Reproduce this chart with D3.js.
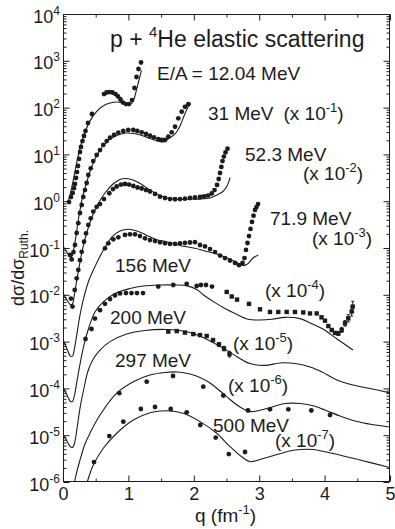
<!DOCTYPE html>
<html>
<head>
<meta charset="utf-8">
<script src="https://cdn.jsdelivr.net/npm/d3@7/dist/d3.min.js"></script>
<style>
  html, body { margin: 0; padding: 0; background: #fff; }
  svg { display: block; font-family: "Liberation Sans", Arial, Helvetica, sans-serif; }
</style>
</head>
<body>
<svg id="chart" width="395" height="529"></svg>
<script>
// ---- axes ----
const qDomain = [0, 5];
const ratioDomain = [1e-6, 1e4];
const qMajorTicks = [0, 1, 2, 3, 4, 5];
const qMinorTicks = [0.5, 1.5, 2.5, 3.5, 4.5];
const decadeExponents = [-6, -5, -4, -3, -2, -1, 0, 1, 2, 3, 4];

// ---- E/A = 12.04 MeV ----
const e12Q = [0.092,0.122,0.148,0.168,0.183,0.199,0.214,0.229,0.245,0.26,0.275,0.298,0.321,0.344,0.382,0.443,0.627,0.665,0.711,0.757,0.803,0.841,0.879,0.917,0.963,1.009,1.055,1.093,1.124,1.154,1.193];
const e12Sigma = [0.96,1.23,1.5,1.9,2.33,3.13,4.2,5.65,8.0,11.2,14.4,19.3,24.7,31.6,46.9,73,195,210,215,210,195,173,149,128,119,119,145,262,451,668,920];
const e12CalcQ = [0.076,0.138,0.199,0.26,0.336,0.413,0.505,0.612,0.719,0.826,0.917,0.994,1.047,1.086,1.124,1.162,1.2];
const e12Calc = [0.92,2.1,5.65,13.7,30,52,80.5,108,125,132,125,116,122,153,238,389,621];

// ---- 31 MeV (x 10^-1) ----
const e31Q = [0.107,0.133,0.161,0.183,0.209,0.234,0.26,0.286,0.31,0.336,0.362,0.387,0.424,0.463,0.515,0.566,0.616,0.668,0.719,0.78,0.846,0.922,0.998,1.075,1.136,1.203,1.269,1.33,1.391,1.457,1.509,1.56,1.61,1.662,1.713,1.763,1.815,1.865,1.916];
const e31Sigma = [0.071,0.057,0.082,0.116,0.21,0.34,0.56,0.83,1.23,1.73,2.45,3.63,5.05,7.2,9.7,12.4,15.9,19.3,22.7,26,29.1,31.6,33.2,33.2,31.6,29.6,27.3,25.1,23.2,21.3,20.3,20.3,23.9,29.6,39,59,81.7,104,118];
const e31CalcQ = [0.008,0.061,0.107,0.138,0.168,0.199,0.229,0.26,0.291,0.336,0.382,0.443,0.52,0.612,0.719,0.841,0.963,1.086,1.208,1.33,1.437,1.529,1.606,1.713,1.789,1.85,1.911,1.95];
const e31Calc = [0.105,0.082,0.064,0.067,0.1,0.18,0.36,0.65,1.11,1.91,3.13,5.65,9.7,15.1,21.3,26,28.6,28,25.4,21.9,19.3,18.4,21.3,27.3,40.5,66,103,125];

// ---- 52.3 MeV (x 10^-2) ----
const e52Q = [0.122,0.145,0.179,0.209,0.234,0.26,0.286,0.321,0.352,0.387,0.424,0.463,0.515,0.566,0.627,0.708,0.765,0.821,0.887,0.948,1.009,1.075,1.139,1.203,1.269,1.33,1.407,1.483,1.56,1.636,1.713,1.789,1.865,1.942,2.018,2.095,2.156,2.217,2.274,2.317,2.355,2.381,2.401,2.421,2.439,2.46,2.485,2.515];
const e52Sigma = [0.0083,0.0056,0.0127,0.0225,0.034,0.055,0.083,0.136,0.206,0.31,0.43,0.6,0.76,0.87,1.11,1.48,1.82,2.06,2.27,2.33,2.27,2.11,1.96,1.87,1.73,1.61,1.43,1.25,1.17,1.11,1.1,1.11,1.13,1.17,1.2,1.23,1.26,1.32,1.46,1.73,2.22,2.98,4.0,5.4,7.2,9.0,11.0,13.2];
const e52CalcQ = [0.008,0.061,0.115,0.145,0.176,0.214,0.26,0.306,0.367,0.443,0.535,0.642,0.765,0.872,0.963,1.07,1.193,1.33,1.483,1.636,1.789,1.942,2.095,2.248,2.355,2.446,2.508,2.554];
const e52Calc = [0.0104,0.0077,0.0061,0.0064,0.0104,0.0218,0.05,0.105,0.22,0.46,0.87,1.5,2.33,2.91,3.05,2.84,2.33,1.73,1.32,1.14,1.09,1.11,1.11,1.17,1.36,1.61,2.11,3.2];

// ---- 71.9 MeV (x 10^-3) ----
const e72Q = [0.642,0.693,0.769,0.846,0.948,1.024,1.101,1.177,1.254,1.33,1.407,1.483,1.56,1.636,1.713,1.789,1.865,1.942,2.018,2.095,2.171,2.248,2.324,2.401,2.477,2.554,2.63,2.691,2.745,2.775,2.798,2.821,2.844,2.867,2.89,2.913,2.936,2.959,2.982];
const e72Sigma = [0.0986,0.126,0.153,0.169,0.19,0.196,0.196,0.18,0.161,0.148,0.141,0.132,0.126,0.122,0.122,0.126,0.128,0.131,0.133,0.116,0.108,0.095,0.082,0.069,0.061,0.054,0.048,0.043,0.048,0.061,0.091,0.128,0.18,0.255,0.36,0.49,0.65,0.75,0.87];
const e72CalcQ = [0.008,0.061,0.115,0.145,0.176,0.214,0.26,0.321,0.398,0.515,0.627,0.749,0.872,0.998,1.131,1.269,1.422,1.586,1.789,2.018,2.171,2.324,2.523,2.645,2.732,2.783,2.833,2.905,2.986];
const e72Calc = [0.00103,0.0007,0.00049,0.00049,0.00073,0.0015,0.0037,0.009,0.0207,0.048,0.095,0.172,0.231,0.251,0.231,0.19,0.152,0.136,0.113,0.0986,0.086,0.077,0.06,0.05,0.043,0.043,0.047,0.061,0.071];

// ---- 156 MeV (x 10^-4) ----
const e156Q = [0.344,0.436,0.489,0.566,0.642,0.719,0.795,0.872,0.963,1.047,1.131,1.223,1.457,1.687,1.891,2.044,2.11,2.187,2.278];
const e156Sigma = [0.00114,0.00186,0.0031,0.0047,0.0064,0.0081,0.0097,0.0107,0.0109,0.0109,0.0109,0.0109,0.015,0.0162,0.017,0.0154,0.0162,0.0162,0.015];
const e156HighQ = [2.503,2.58,2.661,2.844,3.012,3.165,3.292,3.42,3.547,3.674,3.777,3.879,3.953,4.006,4.057,4.109,4.159,4.21,4.261,4.312,4.362,4.414,4.43];
const e156HighSigma = [0.0115,0.0092,0.0079,0.0064,0.0049,0.0043,0.0043,0.0043,0.0043,0.0042,0.004,0.004,0.0033,0.0028,0.00215,0.00177,0.00153,0.00149,0.00177,0.00246,0.00315,0.0044,0.0056];
const e156HighErr = [0,0,0,0,0,0,0,0,0,0,0,0,0,0,0,0,0.08,0.1,0.12,0.15,0.2,0.25,0.3];
const e156CalcQ = [0.008,0.061,0.115,0.145,0.176,0.214,0.26,0.321,0.398,0.489,0.612,0.795,1.024,1.228,1.483,1.713,1.9,2.05,2.171,2.324,2.477,2.63,2.829,3.012,3.196,3.394,3.624,3.807,3.96,4.19,4.434];
const e156Calc = [1.02e-4,7.2e-5,5.25e-5,5.25e-5,7.2e-5,1.44e-4,3.3e-4,8.5e-4,0.00205,0.0043,0.007,0.0107,0.0136,0.0154,0.0162,0.0162,0.0155,0.0128,0.0094,0.0068,0.0051,0.004,0.003,0.0029,0.003,0.0033,0.0031,0.0024,0.0019,0.00114,6.6e-4];

// ---- 200 MeV (x 10^-5) ----
const e200Q = [1.61,1.739,1.865,1.992,2.095,2.197,2.294,2.385,2.462,2.546];
const e200Sigma = [0.00164,0.00168,0.00156,0.00145,0.00138,0.00132,0.00108,8.7e-4,7.1e-4,5.4e-4];
const e200Err = [0,0,0,0,0,0,0.06,0.1,0.12,0.15];
const e200CalcQ = [0.008,0.061,0.115,0.153,0.183,0.222,0.26,0.321,0.387,0.474,0.566,0.719,0.974,1.254,1.56,1.789,2.018,2.248,2.401,2.656,2.859,3.089,3.318,3.547,3.777,3.96,4.19,4.434,4.694,5.0];
const e200Calc = [1.01e-5,7.5e-6,5.6e-6,5.6e-6,7.5e-6,1.65e-5,3.8e-5,1.02e-4,2.47e-4,4.5e-4,6.6e-4,0.001,0.00145,0.00173,0.00182,0.00173,0.00145,0.00103,7.9e-4,4.8e-4,3.4e-4,3.1e-4,3.5e-4,3.4e-4,2.86e-4,2.24e-4,1.51e-4,1.18e-4,9.95e-5,8e-5];

// ---- 297 MeV (x 10^-6) ----
const e297Q = [0.861,1.28,1.682,2.145,2.451,2.829,3.165,3.445,3.797,4.083];
const e297Sigma = [7.9e-5,1.39e-4,1.84e-4,1.09e-4,7.05e-5,3.37e-5,3.57e-5,3.57e-5,3.37e-5,2.7e-5];
const e297CalcQ = [0.138,0.168,0.199,0.26,0.336,0.413,0.566,0.821,1.075,1.33,1.56,1.758,1.942,2.095,2.248,2.401,2.554,2.706,2.859,3.012,3.196,3.394,3.624,3.807,4.006,4.235,4.465,4.725,5.0];
const e297Calc = [4.1e-7,8.6e-7,1.41e-6,2.95e-6,6.5e-6,1.11e-5,2.7e-5,7.9e-5,1.39e-4,1.93e-4,2.19e-4,2.24e-4,2.03e-4,1.71e-4,1.3e-4,8.8e-5,5.8e-5,4.0e-5,3.2e-5,3.4e-5,4.0e-5,4.75e-5,4.75e-5,4.3e-5,3.45e-5,2.57e-5,2.01e-5,1.69e-5,1.5e-5];

// ---- 500 MeV (x 10^-7) ----
const e500Q = [0.474,0.708,0.922,1.19,1.407,1.647,1.891,2.099,2.335,2.535,2.783];
const e500Sigma = [2.67e-6,9.6e-6,1.95e-5,3.63e-5,4.0e-5,3.63e-5,3.08e-5,1.65e-5,8.9e-6,3.96e-6,4.38e-6];
const e500CalcQ = [0.321,0.372,0.463,0.616,0.821,1.075,1.33,1.586,1.839,2.095,2.35,2.554,2.737,2.859,3.012,3.272,3.547,3.823,4.128,4.541,5.0];
const e500Calc = [6.7e-7,1.03e-6,2.3e-6,5.25e-6,1.1e-5,2.11e-5,3.03e-5,3.34e-5,2.94e-5,1.95e-5,1.1e-5,5.7e-6,3.42e-6,2.72e-6,3.03e-6,3.87e-6,4.83e-6,4.95e-6,4.06e-6,2.95e-6,2.04e-6];

// ---- annotation texts ----
const energyLabels = ["E/A = 12.04 MeV", "31 MeV", "52.3 MeV", "71.9 MeV", "156 MeV", "200 MeV", "297 MeV", "500 MeV"];
const scaleExponents = ["-1", "-2", "-3", "-4", "-5", "-6", "-7"];

// ================= drawing =================
const ink = "#1c1c1c";
const svg = d3.select("#chart");
const L = 63, R = 390, T = 14, B = 482;

const x = d3.scaleLinear().domain(qDomain).range([L, R]);
const y = d3.scaleLog().domain(ratioDomain).range([B, T]);

svg.append("rect").attr("width", 395).attr("height", 529).attr("fill", "#fff");

svg.append("defs").append("clipPath").attr("id", "plotArea")
  .append("rect").attr("x", L).attr("y", T).attr("width", R - L).attr("height", B - T);

const zip = (qs, vs) => qs.map((q, i) => [q, vs[i]]);

const curves = [
  zip(e12CalcQ, e12Calc), zip(e31CalcQ, e31Calc), zip(e52CalcQ, e52Calc), zip(e72CalcQ, e72Calc),
  zip(e156CalcQ, e156Calc), zip(e200CalcQ, e200Calc), zip(e297CalcQ, e297Calc), zip(e500CalcQ, e500Calc)
];
const dotSets = [
  zip(e12Q, e12Sigma), zip(e31Q, e31Sigma), zip(e52Q, e52Sigma), zip(e72Q, e72Sigma),
  zip(e156Q, e156Sigma), zip(e297Q, e297Sigma), zip(e500Q, e500Sigma)
];
const squareSets = [
  e156HighQ.map((q, i) => [q, e156HighSigma[i], e156HighErr[i]]),
  e200Q.map((q, i) => [q, e200Sigma[i], e200Err[i]])
];

const plot = svg.append("g").attr("clip-path", "url(#plotArea)");

const line = d3.line()
  .x(d => x(d[0])).y(d => y(d[1]))
  .curve(d3.curveCatmullRom.alpha(0.5));

plot.selectAll("path.calc").data(curves).join("path")
  .attr("class", "calc")
  .attr("d", line)
  .attr("fill", "none")
  .attr("stroke", ink)
  .attr("stroke-width", 1.1);

// error bars
const errPts = squareSets.flat().filter(d => d[2] > 0);
const eb = plot.selectAll("g.err").data(errPts).join("g").attr("class", "err")
  .attr("stroke", ink).attr("stroke-width", 1);
eb.append("line")
  .attr("x1", d => x(d[0])).attr("x2", d => x(d[0]))
  .attr("y1", d => y(d[1] * (1 + d[2]))).attr("y2", d => y(d[1] / (1 + d[2])));
eb.append("line")
  .attr("x1", d => x(d[0]) - 1.5).attr("x2", d => x(d[0]) + 1.5)
  .attr("y1", d => y(d[1] * (1 + d[2]))).attr("y2", d => y(d[1] * (1 + d[2])));
eb.append("line")
  .attr("x1", d => x(d[0]) - 1.5).attr("x2", d => x(d[0]) + 1.5)
  .attr("y1", d => y(d[1] / (1 + d[2]))).attr("y2", d => y(d[1] / (1 + d[2])));

plot.selectAll("circle.pt").data(dotSets.flat()).join("circle")
  .attr("class", "pt")
  .attr("cx", d => x(d[0])).attr("cy", d => y(d[1]))
  .attr("r", 2.4).attr("fill", ink);

const sq = 4.4;
plot.selectAll("rect.pt").data(squareSets.flat()).join("rect")
  .attr("class", "pt")
  .attr("x", d => x(d[0]) - sq / 2).attr("y", d => y(d[1]) - sq / 2)
  .attr("width", sq).attr("height", sq).attr("fill", ink);

// ---- frame and ticks ----
svg.append("rect")
  .attr("x", L + 0.5).attr("y", T + 0.5)
  .attr("width", R - L - 1).attr("height", B - T - 1)
  .attr("fill", "none").attr("stroke", ink).attr("stroke-width", 1);

function tickAxis(axis, tx, ty) {
  const g = svg.append("g").attr("transform", `translate(${tx},${ty})`).style("color", ink).call(axis);
  g.select(".domain").remove();
  return g;
}

const minorDecadeTicks = [];
decadeExponents.slice(0, -1).forEach(e => { for (let k = 2; k <= 9; k++) minorDecadeTicks.push(k * Math.pow(10, e)); });
const decadeTicks = decadeExponents.map(e => Math.pow(10, e));

tickAxis(d3.axisBottom(x).tickValues(qMinorTicks).tickSize(-3).tickFormat(""), 0, B - 0.5);
tickAxis(d3.axisTop(x).tickValues(qMinorTicks).tickSize(-3).tickFormat(""), 0, T + 0.5);
tickAxis(d3.axisTop(x).tickValues(qMajorTicks).tickSize(-6).tickFormat(""), 0, T + 0.5);
tickAxis(d3.axisLeft(y).tickValues(minorDecadeTicks).tickSize(-3).tickFormat(""), L + 0.5, 0);
tickAxis(d3.axisRight(y).tickValues(minorDecadeTicks).tickSize(-3).tickFormat(""), R - 0.5, 0);
tickAxis(d3.axisRight(y).tickValues(decadeTicks).tickSize(-6).tickFormat(""), R - 0.5, 0);

const xAx = tickAxis(d3.axisBottom(x).tickValues(qMajorTicks).tickSize(-6).tickPadding(6).tickFormat(d3.format("d")), 0, B - 0.5);
xAx.selectAll("text").attr("font-size", 18).attr("font-family", null).attr("fill", ink);

const yAx = tickAxis(d3.axisLeft(y).tickValues(decadeTicks).tickSize(-6).tickPadding(3).tickFormat(""), L + 0.5, 0);
yAx.selectAll("text").each(function (d) {
  const t = d3.select(this).attr("font-size", 18).attr("font-family", null).attr("fill", ink)
    .attr("dy", 8).attr("x", -3.5);
  t.append("tspan").text("10");
  t.append("tspan").attr("font-size", 12).attr("dy", -8).text(String(Math.round(Math.log10(d))));
});

// ---- rich text helper ----
function rich(xp, yp, parts, size, attrs) {
  const t = svg.append("text").attr("x", xp).attr("y", yp).attr("font-size", size).attr("fill", ink);
  if (attrs) Object.entries(attrs).forEach(([k, v]) => t.attr(k, v));
  let shift = 0;
  parts.forEach(p => {
    const s = t.append("tspan").text(p.t);
    let target = 0;
    if (p.sup) { target = -Math.round(size * 0.42); s.attr("font-size", Math.round(size * 0.66)); }
    if (p.sub) { target = Math.round(size * 0.22); s.attr("font-size", Math.round(size * 0.68)); }
    if (target !== shift) { s.attr("dy", target - shift); shift = target; }
    if (p.dx) s.attr("dx", p.dx);
  });
  return t;
}
const factor = (e) => [{ t: "(x 10" }, { t: e, sup: true }, { t: ")" }];

rich(110, 47, [{ t: "p + " }, { t: "4", sup: true }, { t: "He elastic scattering" }], 23);
rich(157, 80, [{ t: energyLabels[0] }], 19);
rich(208, 120, [{ t: energyLabels[1] }, { t: "(x 10", dx: 10 }, { t: scaleExponents[0], sup: true }, { t: ")" }], 19);
rich(245, 160.5, [{ t: energyLabels[2] }], 19);
rich(303, 180, factor(scaleExponents[1]), 19);
rich(270, 225, [{ t: energyLabels[3] }], 19);
rich(312, 245, factor(scaleExponents[2]), 19);
rich(115, 272, [{ t: energyLabels[4] }], 19);
rich(265, 297, factor(scaleExponents[3]), 19);
rich(110, 324, [{ t: energyLabels[5] }], 19);
rich(233, 350, factor(scaleExponents[4]), 19);
rich(115, 367, [{ t: energyLabels[6] }], 19);
rich(228, 392, factor(scaleExponents[5]), 19);
rich(213, 432, [{ t: energyLabels[7] }], 19);
rich(275, 447, factor(scaleExponents[6]), 19);

// axis titles
rich(195, 522, [{ t: "q (fm" }, { t: "-1", sup: true }, { t: ")" }], 19);
rich(0, 0, [{ t: "dσ/dσ" }, { t: "Ruth.", sub: true }], 18,
  { transform: "translate(23.5,268) rotate(-90)", "text-anchor": "middle" });
</script>
</body>
</html>
